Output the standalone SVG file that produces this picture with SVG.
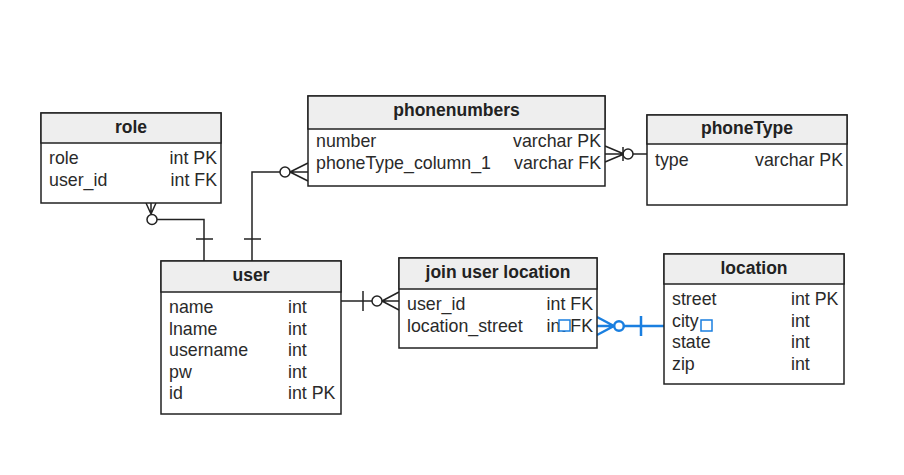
<svg xmlns="http://www.w3.org/2000/svg" width="904" height="475" viewBox="0 0 904 475">
<style>
.box{fill:#fff;stroke:#222;stroke-width:1.5}
.hdr{fill:#eeeeee;stroke:#222;stroke-width:1.5}
.t{font-family:"Liberation Sans",Arial,sans-serif;font-size:17.8px;fill:#2a2a2a}
.h{font-family:"Liberation Sans",Arial,sans-serif;font-size:17.5px;font-weight:bold;fill:#222;text-anchor:middle}
.e{text-anchor:end}
.c{fill:none;stroke:#222;stroke-width:1.5}
.cw{fill:#fff;stroke:#222;stroke-width:1.5}
.b{fill:none;stroke:#1a7fe0;stroke-width:2.5}
.bw{fill:#fff;stroke:#1a7fe0;stroke-width:2.5}
.sq{fill:#fff;stroke:#1a7fe0;stroke-width:1.5}
</style>
<rect width="904" height="475" fill="#fff"/>
<g id="connectors">
  <!-- role - user -->
  <path class="c" d="M157,219.5 H204 V261"/>
  <path class="c" d="M146,203 L151,214 M151,203 V214 M156,203 L151,214"/>
  <circle class="cw" cx="152" cy="219.5" r="5"/>
  <path class="c" d="M196,239 H213"/>
  <!-- user - phonenumbers -->
  <path class="c" d="M252,261 V172 H280"/>
  <path class="c" d="M244,239 H261"/>
  <circle class="cw" cx="285" cy="172" r="5"/>
  <path class="c" d="M290,172 L308,163 M290,172 H308 M290,172 L308,181"/>
  <!-- phonenumbers - phoneType -->
  <path class="c" d="M633,154 H647"/>
  <path class="c" d="M624,154 L605,146 M624,154 H605 M624,154 L605,162"/>
  <circle class="cw" cx="628" cy="154" r="5"/>
  <path class="c" d="M623,147 V161"/>
  <!-- user - join -->
  <path class="c" d="M341,301 H372"/>
  <path class="c" d="M363,291 V311"/>
  <circle class="cw" cx="377" cy="301" r="5"/>
  <path class="c" d="M382,301 L399,292 M382,301 H399 M382,301 L399,310"/>
  <!-- join - location (blue) -->
  <path class="b" d="M624,326 H664"/>
  <path class="b" d="M614,326 L597,317 M614,326 H597 M614,326 L597,335"/>
  <circle class="bw" cx="619" cy="326" r="4.8"/>
  <path class="b" d="M641,316 V336"/>
</g>
<g id="role">
  <rect class="box" x="41" y="113" width="180" height="90"/>
  <rect class="hdr" x="41" y="113" width="180" height="30"/>
  <text class="h" x="131" y="133">role</text>
  <text class="t" x="49" y="164">role</text>
  <text class="t e" x="217" y="164">int PK</text>
  <text class="t" x="49" y="186">user_id</text>
  <text class="t e" x="217" y="186">int FK</text>
</g>
<g id="phonenumbers">
  <rect class="box" x="308" y="96" width="297" height="90"/>
  <rect class="hdr" x="308" y="96" width="297" height="33"/>
  <text class="h" x="456.5" y="116">phonenumbers</text>
  <text class="t" x="316" y="147">number</text>
  <text class="t e" x="601" y="147">varchar PK</text>
  <text class="t" x="316" y="169">phoneType_column_1</text>
  <text class="t e" x="601" y="169">varchar FK</text>
</g>
<g id="phoneType">
  <rect class="box" x="647" y="115" width="200" height="90"/>
  <rect class="hdr" x="647" y="115" width="200" height="29"/>
  <text class="h" x="747" y="134">phoneType</text>
  <text class="t" x="655" y="166">type</text>
  <text class="t e" x="843" y="166">varchar PK</text>
</g>
<g id="user">
  <rect class="box" x="161" y="261" width="180" height="153"/>
  <rect class="hdr" x="161" y="261" width="180" height="31"/>
  <text class="h" x="251" y="281">user</text>
  <text class="t" x="169" y="313">name</text>
  <text class="t" x="288" y="313">int</text>
  <text class="t" x="169" y="334.5">lname</text>
  <text class="t" x="288" y="334.5">int</text>
  <text class="t" x="169" y="356">username</text>
  <text class="t" x="288" y="356">int</text>
  <text class="t" x="169" y="377.5">pw</text>
  <text class="t" x="288" y="377.5">int</text>
  <text class="t" x="169" y="399">id</text>
  <text class="t" x="288" y="399">int PK</text>
</g>
<g id="join_user_location">
  <rect class="box" x="399" y="258" width="198" height="90"/>
  <rect class="hdr" x="399" y="258" width="198" height="31"/>
  <text class="h" x="498" y="278">join user location</text>
  <text class="t" x="407" y="310">user_id</text>
  <text class="t e" x="593" y="310">int FK</text>
  <text class="t" x="407" y="331.5">location_street</text>
  <text class="t e" x="593" y="331.5">int FK</text>
  <rect class="sq" x="559" y="320" width="11" height="11"/>
</g>
<g id="location">
  <rect class="box" x="664" y="254" width="180" height="130"/>
  <rect class="hdr" x="664" y="254" width="180" height="30"/>
  <text class="h" x="754" y="274">location</text>
  <text class="t" x="672" y="305">street</text>
  <text class="t" x="791" y="305">int PK</text>
  <text class="t" x="672" y="326.5">city</text>
  <text class="t" x="791" y="326.5">int</text>
  <text class="t" x="672" y="348">state</text>
  <text class="t" x="791" y="348">int</text>
  <text class="t" x="672" y="369.5">zip</text>
  <text class="t" x="791" y="369.5">int</text>
  <rect class="sq" x="701" y="320" width="11" height="11"/>
</g>
</svg>
